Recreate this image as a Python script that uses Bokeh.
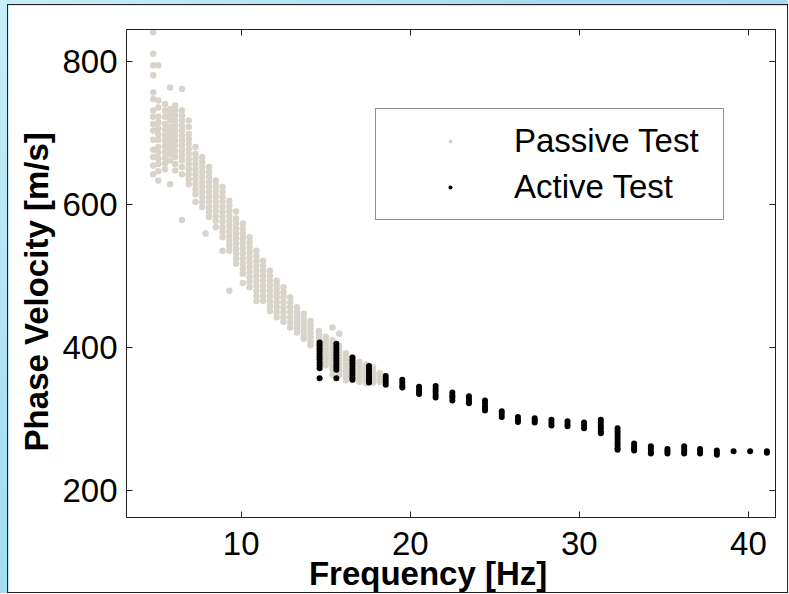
from bokeh.plotting import figure
from bokeh.models import Range1d, LinearAxis, FixedTicker, Legend, LegendItem
from bokeh.layouts import column
from bokeh.embed import file_html
from bokeh.resources import INLINE

# ---- data ----
passive_cols_hz = [4.8, 5.1, 5.5, 5.8, 6.1, 6.5, 6.9, 7.3, 7.7, 7.9, 8.1, 8.5, 8.9, 9.3, 9.7,
                   10.1, 10.5, 10.9, 11.3, 11.7, 12.1, 12.5, 12.9, 13.3, 13.7, 14.1, 14.6,
                   15.0, 15.4, 15.8, 16.2, 16.6, 17.0, 17.4, 17.8, 18.2, 18.5]
passive_cols_mps = [
    [840, 810, 794, 780, 756, 747, 731, 722, 712, 703, 690, 676, 666, 654, 642],
    [794, 745, 735, 722, 714, 706, 698, 690, 680, 672, 664, 656, 646, 633],
    [740, 731, 722, 712, 704, 696, 689, 681, 673, 665, 657, 649],
    [763, 733, 725, 717, 708, 700, 694, 686, 678, 670, 661, 628],
    [738, 731, 724, 717, 710, 703, 696, 689, 682, 674, 666, 656, 647],
    [761, 731, 724, 717, 710, 703, 696, 689, 682, 675, 668, 661, 652, 642, 578],
    [717, 708, 698, 691, 684, 677, 670, 663, 656, 649, 642, 635, 628],
    [680, 670, 663, 656, 649, 642, 635, 628, 621, 614, 603],
    [666, 659, 652, 645, 638, 631, 624, 617, 610, 603, 596],
    [559],
    [652, 645, 638, 631, 624, 617, 610, 603, 596, 589, 582],
    [633, 626, 619, 612, 605, 598, 591, 584, 577, 568],
    [624, 617, 610, 603, 596, 589, 582, 575, 568, 561, 554, 535],
    [605, 598, 591, 584, 577, 570, 563, 556, 549, 542, 535, 479],
    [590, 580, 573, 566, 559, 552, 545, 538, 531, 524, 517],
    [573, 566, 559, 552, 545, 538, 531, 524, 517, 510, 503, 490],
    [554, 547, 540, 533, 526, 519, 512, 505, 498, 491, 484],
    [535, 528, 521, 514, 507, 500, 493, 486, 479, 472, 465],
    [521, 514, 507, 500, 493, 486, 479, 472, 465],
    [507, 500, 493, 486, 479, 472, 465, 458, 451],
    [493, 488, 482, 476, 470, 463, 456, 449, 442],
    [484, 477, 470, 463, 456, 449, 442, 436],
    [470, 463, 456, 449, 442, 435, 428],
    [456, 450, 444, 438, 433, 427, 421],
    [447, 441, 435, 429, 423, 417, 412],
    [437, 431, 426, 420, 414, 408, 403],
    [423, 418, 414, 408, 403, 397, 391, 385],
    [415, 410, 405, 400, 395, 390, 385, 380, 375],
    [428, 410, 405, 400, 395, 390, 385, 380, 375, 370, 362],
    [419, 402, 397, 392, 387, 382, 377, 372, 367, 362],
    [392, 388, 384, 380, 376, 372, 368, 364, 360, 354],
    [386, 382, 378, 374, 370, 366, 362, 358, 355],
    [380, 376, 372, 368, 364, 360, 357, 352],
    [376, 372, 369, 365, 362, 358, 355, 350],
    [372, 368, 365, 361, 358, 354, 351],
    [364, 361, 358, 355, 352],
    [360, 356, 353],
]

active_cols_hz = [14.64, 15.63, 16.58, 17.56, 18.55, 19.53, 20.52, 21.50, 22.49, 23.47,
                  24.42, 25.41, 26.37, 27.36, 28.35, 29.30, 30.28, 31.27, 32.26, 33.24,
                  34.23, 35.21, 36.20, 37.14, 38.13, 39.12, 40.10, 41.09]
active_cols_mps = [
    [407, 403, 399, 395, 391, 387, 383, 379, 375, 371, 357],
    [405, 401, 397, 393, 389, 385, 381, 377, 373, 369, 357],
    [386, 382, 378, 374, 370, 366, 362, 358, 355],
    [374, 370, 366, 362, 358, 354, 351],
    [360, 356, 352, 348],
    [355, 351, 347, 344],
    [345, 341, 338, 335],
    [346, 342, 338, 334, 330],
    [337, 333, 330, 326],
    [332, 328, 325, 322],
    [326, 322, 318, 315, 312],
    [311, 307, 303],
    [303, 299, 296],
    [301, 298, 295],
    [299, 295, 291],
    [297, 293, 290],
    [295, 291, 287],
    [299, 295, 291, 287, 283, 280],
    [287, 283, 279, 275, 271, 267, 263, 259, 257],
    [266, 262, 259, 256],
    [262, 258, 254, 252],
    [258, 255, 252],
    [262, 258, 255, 252],
    [258, 255, 252],
    [256, 253, 250],
    [255],
    [255],
    [255, 253],
]

x_ticks = [10, 20, 30, 40]
y_ticks = [200, 400, 600, 800]
x_label = "Frequency [Hz]"
y_label = "Phase Velocity [m/s]"
series_names = ["Passive Test", "Active Test"]


def flatten(cols_x, cols_y):
    xs, ys = [], []
    for fx, vals in zip(cols_x, cols_y):
        for v in vals:
            xs.append(fx)
            ys.append(v)
    return xs, ys


px, py = flatten(passive_cols_hz, passive_cols_mps)
ax, ay = flatten(active_cols_hz, active_cols_mps)

FONT = "Liberation Sans"
FS = "33px"
NBSP = "\u00a0"

p = figure(width=781, height=589,
           x_range=Range1d(3.22, 41.6), y_range=Range1d(162.5, 844),
           output_backend="svg", toolbar_location=None,
           min_border_left=118, min_border_right=14, min_border_top=24, min_border_bottom=77,
           background_fill_color="white", border_fill_color="white",
           outline_line_color="#222222", outline_line_width=1)
p.xgrid.visible = False
p.ygrid.visible = False

r_passive = p.scatter(px, py, size=6.5, color="#d8d4cb", line_color=None)
r_active = p.scatter(ax, ay, size=6, color="black", line_color=None)


def style_axis(axis, ticks, show_labels=True):
    axis.ticker = FixedTicker(ticks=ticks)
    axis.major_tick_in = 6
    axis.major_tick_out = 0
    axis.minor_tick_line_color = None
    axis.axis_line_color = "#222222"
    axis.major_tick_line_color = "#222222"
    axis.major_label_text_font = FONT
    axis.major_label_text_color = "black"
    if show_labels:
        axis.major_label_text_font_size = FS
    else:
        axis.major_label_overrides = {t: "" for t in ticks}
        axis.major_label_text_font_size = "1px"
        axis.major_label_standoff = 0


style_axis(p.xaxis[0], x_ticks)
style_axis(p.yaxis[0], y_ticks)
p.xaxis[0].major_label_standoff = 14
p.yaxis[0].major_label_standoff = 9

# axis titles; trailing no-break spaces shift them off-centre as in the reference
p.xaxis[0].axis_label = x_label + NBSP * 5
p.yaxis[0].axis_label = y_label + NBSP * 4
for a in (p.xaxis[0], p.yaxis[0]):
    a.axis_label_text_font = FONT
    a.axis_label_text_font_style = "bold"
    a.axis_label_text_font_size = FS
    a.axis_label_text_color = "black"
p.xaxis[0].axis_label_standoff = -3
p.yaxis[0].axis_label_standoff = 4

top_axis = LinearAxis()
style_axis(top_axis, x_ticks, show_labels=False)
p.add_layout(top_axis, "above")
right_axis = LinearAxis()
style_axis(right_axis, y_ticks, show_labels=False)
p.add_layout(right_axis, "right")

legend = Legend(items=[LegendItem(label=series_names[0], renderers=[r_passive]),
                       LegendItem(label=series_names[1], renderers=[r_active])],
                location=(249, 297))
legend.label_text_font = FONT
legend.label_text_font_size = FS
legend.label_text_color = "black"
legend.border_line_color = "#222222"
legend.border_line_width = 1
legend.background_fill_color = "white"
legend.background_fill_alpha = 1
legend.padding = 13
legend.margin = 0
legend.glyph_width = 122
legend.glyph_height = 10
legend.label_standoff = 3
legend.label_width = 196
legend.spacing = 8
p.add_layout(legend)

p.margin = (4, 0, 0, 7)
p.styles = {"border": "1px solid #222222"}

page = column(p, styles={"background": "linear-gradient(135deg, #c6eef9 0%, #a6dcf1 40%, #9fd8ef 100%)"})

open("out.html", "w").write(file_html(page, INLINE))
